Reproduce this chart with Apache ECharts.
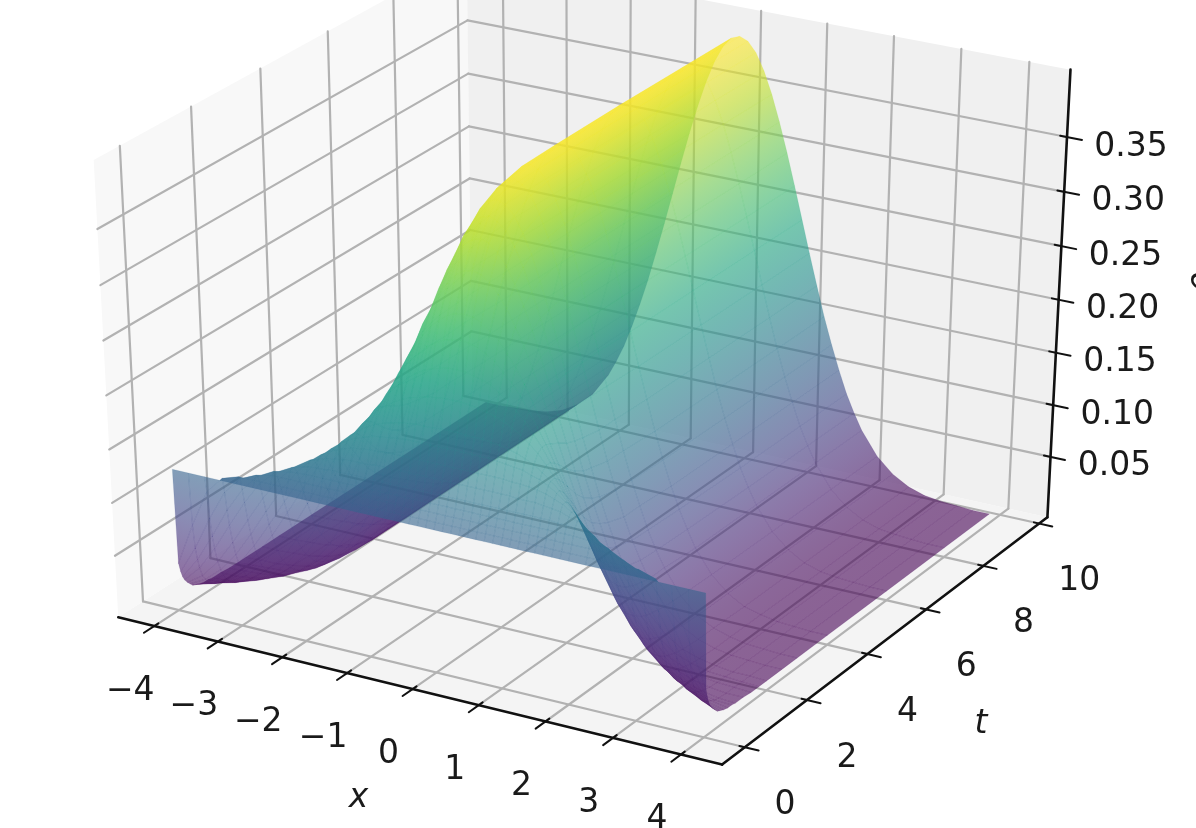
<!DOCTYPE html>
<html>
<head>
<meta charset="utf-8">
<style>html,body{margin:0;background:#fff}#chart{width:1196px;height:828px}</style>
<script src="https://cdn.jsdelivr.net/npm/echarts@6/dist/echarts.min.js"></script>
</head>
<body>
<div id="chart"></div>
<script>
// values: one row of rho per t
var xValues = [-4,-3.75,-3.5,-3.25,-3,-2.75,-2.5,-2.25,-2,-1.875,-1.75,-1.625,-1.5,-1.375,-1.25,-1.125,-1,-0.875,-0.75,-0.625,-0.5,-0.375,-0.25,-0.125,0,0.125,0.25,0.375,0.5,0.625,0.75,0.875,1,1.125,1.25,1.375,1.5,1.625,1.75,1.875,2,2.25,2.5,2.75,3,3.25,3.5,3.75,4];
var tValues = [0,0.05,0.1,0.15,0.2,0.275,0.35,0.425,0.5,0.625,0.75,0.875,1,1.25,1.5,1.75,2,2.5,3,4,6,8,9.6];
var rho_t0 = [.125,.125,.125,.125,.125,.125,.125,.125,.125,.125,.125,.125,.125,.125,.125,.125,.125,.125,.125,.125,.125,.125,.125,.125,.125,.125,.125,.125,.125,.125,.125,.125,.125,.125,.125,.125,.125,.125,.125,.125,.125,.125,.125,.125,.125,.125,.125,.125,.125];
var rho_t005 = [.035,.075,.110,.126,.131,.131,.131,.131,.131,.131,.131,.131,.131,.131,.131,.131,.131,.131,.131,.131,.131,.131,.131,.131,.131,.131,.131,.131,.131,.131,.131,.131,.131,.131,.131,.131,.131,.131,.131,.131,.131,.131,.131,.131,.131,.126,.110,.075,.035];
var rho_t01 = [.026,.052,.084,.112,.128,.135,.138,.138,.138,.138,.138,.138,.138,.138,.138,.138,.138,.138,.138,.138,.138,.138,.138,.138,.138,.138,.138,.138,.138,.138,.138,.138,.138,.138,.138,.138,.138,.138,.138,.138,.138,.138,.138,.135,.128,.112,.084,.052,.026];
var rho_t015 = [.020,.040,.066,.094,.117,.133,.141,.144,.145,.145,.145,.145,.145,.145,.145,.145,.145,.145,.145,.145,.145,.145,.145,.145,.145,.145,.145,.145,.145,.145,.145,.145,.145,.145,.145,.145,.145,.145,.145,.145,.145,.144,.141,.133,.117,.094,.066,.040,.020];
var rho_t02 = [.016,.031,.053,.079,.104,.125,.139,.147,.151,.152,.152,.153,.153,.153,.153,.153,.153,.153,.153,.153,.153,.153,.153,.153,.153,.153,.153,.153,.153,.153,.153,.153,.153,.153,.153,.153,.153,.153,.152,.152,.151,.147,.139,.125,.104,.079,.053,.031,.016];
var rho_t0275 = [.012,.022,.039,.061,.086,.110,.131,.146,.156,.158,.161,.162,.163,.164,.164,.164,.165,.165,.165,.165,.165,.165,.165,.165,.165,.165,.165,.165,.165,.165,.165,.165,.165,.164,.164,.164,.163,.162,.161,.158,.156,.146,.131,.110,.086,.061,.039,.022,.012];
var rho_t035 = [.009,.017,.030,.048,.071,.096,.120,.140,.155,.161,.166,.169,.172,.174,.175,.176,.176,.177,.177,.177,.177,.177,.177,.177,.177,.177,.177,.177,.177,.177,.177,.177,.176,.176,.175,.174,.172,.169,.166,.161,.155,.140,.120,.096,.071,.048,.030,.017,.009];
var rho_t0425 = [.006,.013,.023,.038,.058,.082,.107,.131,.151,.160,.167,.173,.178,.182,.184,.187,.188,.189,.190,.191,.191,.191,.191,.191,.191,.191,.191,.191,.191,.191,.190,.189,.188,.187,.184,.182,.178,.173,.167,.160,.151,.131,.107,.082,.058,.038,.023,.013,.006];
var rho_t05 = [.005,.010,.018,.031,.049,.070,.095,.121,.145,.156,.165,.174,.181,.187,.192,.196,.199,.201,.203,.204,.205,.205,.205,.206,.206,.206,.205,.205,.205,.204,.203,.201,.199,.196,.192,.187,.181,.174,.165,.156,.145,.121,.095,.070,.049,.031,.018,.010,.005];
var rho_t0625 = [.003,.007,.013,.022,.036,.055,.078,.105,.132,.146,.158,.170,.181,.191,.200,.207,.213,.218,.222,.225,.227,.229,.230,.231,.231,.231,.230,.229,.227,.225,.222,.218,.213,.207,.200,.191,.181,.170,.158,.146,.132,.105,.078,.055,.036,.022,.013,.007,.003];
var rho_t075 = [.002,.005,.009,.016,.028,.043,.065,.090,.119,.134,.149,.163,.177,.191,.203,.213,.223,.231,.238,.244,.249,.252,.254,.256,.256,.256,.254,.252,.249,.244,.238,.231,.223,.213,.203,.191,.177,.163,.149,.134,.119,.090,.065,.043,.028,.016,.009,.005,.002];
var rho_t0875 = [.002,.003,.007,.012,.021,.035,.054,.078,.107,.123,.139,.156,.172,.188,.203,.217,.230,.242,.252,.260,.268,.273,.277,.279,.280,.279,.277,.273,.268,.260,.252,.242,.230,.217,.203,.188,.172,.156,.139,.123,.107,.078,.054,.035,.021,.012,.007,.003,.002];
var rho_t1 = [.001,.002,.005,.010,.017,.029,.046,.068,.097,.113,.130,.148,.166,.184,.201,.219,.235,.250,.263,.274,.284,.291,.297,.300,.301,.300,.297,.291,.284,.274,.263,.250,.235,.219,.201,.184,.166,.148,.130,.113,.097,.068,.046,.029,.017,.010,.005,.002,.001];
var rho_t125 = [.001,.001,.003,.006,.012,.021,.034,.054,.081,.097,.115,.134,.154,.175,.197,.218,.239,.259,.278,.293,.308,.319,.328,.333,.335,.333,.328,.319,.308,.293,.278,.259,.239,.218,.197,.175,.154,.134,.115,.097,.081,.054,.034,.021,.012,.006,.003,.001,.001];
var rho_t15 = [.000,.001,.002,.004,.009,.016,.028,.046,.071,.087,.104,.124,.145,.168,.192,.216,.241,.265,.287,.307,.325,.339,.350,.356,.359,.356,.350,.339,.325,.307,.287,.265,.241,.216,.192,.168,.145,.124,.104,.087,.071,.046,.028,.016,.009,.004,.002,.001,.000];
var rho_t175 = [.000,.001,.002,.003,.007,.013,.024,.040,.064,.080,.097,.118,.140,.163,.189,.215,.241,.268,.293,.315,.335,.352,.364,.371,.374,.371,.364,.352,.335,.315,.293,.268,.241,.215,.189,.163,.140,.118,.097,.080,.064,.040,.024,.013,.007,.003,.002,.001,.000];
var rho_t2 = [.000,.001,.001,.003,.006,.011,.021,.037,.060,.076,.093,.114,.136,.161,.187,.214,.242,.270,.296,.320,.342,.359,.373,.381,.384,.381,.373,.359,.342,.320,.296,.270,.242,.214,.187,.161,.136,.114,.093,.076,.060,.037,.021,.011,.006,.003,.001,.001,.000];
var rho_t25 = [.000,.000,.001,.002,.005,.010,.019,.034,.056,.072,.089,.109,.132,.157,.184,.213,.242,.271,.299,.325,.348,.367,.382,.390,.393,.390,.382,.367,.348,.325,.299,.271,.242,.213,.184,.157,.132,.109,.089,.072,.056,.034,.019,.010,.005,.002,.001,.000,.000];
var rho_t3 = [.000,.000,.001,.002,.005,.010,.018,.033,.056,.071,.088,.109,.131,.157,.184,.213,.243,.272,.301,.327,.351,.370,.385,.394,.397,.394,.385,.370,.351,.327,.301,.272,.243,.213,.184,.157,.131,.109,.088,.071,.056,.033,.018,.010,.005,.002,.001,.000,.000];
var rho_t4 = [.000,.000,.001,.002,.005,.009,.018,.032,.054,.070,.087,.107,.130,.155,.183,.212,.242,.272,.301,.328,.352,.371,.386,.395,.398,.395,.386,.371,.352,.328,.301,.272,.242,.212,.183,.155,.130,.107,.087,.070,.054,.032,.018,.009,.005,.002,.001,.000,.000];
var rho_t6 = [.000,.000,.001,.002,.004,.009,.018,.032,.054,.069,.086,.107,.130,.155,.183,.212,.242,.272,.301,.328,.352,.372,.387,.396,.399,.396,.387,.372,.352,.328,.301,.272,.242,.212,.183,.155,.130,.107,.086,.069,.054,.032,.018,.009,.004,.002,.001,.000,.000];
var rho_t8 = [.000,.000,.001,.002,.004,.009,.018,.032,.054,.069,.086,.107,.130,.155,.183,.212,.242,.272,.301,.328,.352,.372,.387,.396,.399,.396,.387,.372,.352,.328,.301,.272,.242,.212,.183,.155,.130,.107,.086,.069,.054,.032,.018,.009,.004,.002,.001,.000,.000];
var rho_t96 = [.000,.000,.001,.002,.004,.009,.018,.032,.054,.069,.086,.107,.130,.155,.183,.212,.242,.272,.301,.328,.352,.372,.387,.396,.399,.396,.387,.372,.352,.328,.301,.272,.242,.212,.183,.155,.130,.107,.086,.069,.054,.032,.018,.009,.004,.002,.001,.000,.000];
var rhoRows = [rho_t0,rho_t005,rho_t01,rho_t015,rho_t02,rho_t0275,rho_t035,rho_t0425,rho_t05,rho_t0625,rho_t075,rho_t0875,rho_t1,rho_t125,rho_t15,rho_t175,rho_t2,rho_t25,rho_t3,rho_t4,rho_t6,rho_t8,rho_t96];

var xTicks = [-4,-3,-2,-1,0,1,2,3,4];
var tTicks = [0,2,4,6,8,10];
var zTicks = [0.05,0.10,0.15,0.20,0.25,0.30,0.35];

var xLim = [-4.57,4.6], tLim = [-0.72,10.3], zLim = [-0.009,0.4105];
var viridis = ['#440154','#482475','#414487','#355f8d','#2a788e','#21918c','#22a884','#44bf70','#7ad151','#bddf26','#fde725'];
var surfaceAlpha = 0.6, seamAlpha = 0.2, zPeak = 0.399;

var elev = 30*Math.PI/180, azim = -60*Math.PI/180, dist = 10;
var eye = [Math.cos(elev)*Math.cos(azim), Math.cos(elev)*Math.sin(azim), Math.sin(elev)];
var right = [-Math.sin(azim), Math.cos(azim), 0];
var up = [-Math.sin(elev)*Math.cos(azim), -Math.sin(elev)*Math.sin(azim), Math.cos(elev)];

// same view as a matplotlib 3d axes, returns [u, v, depth]
function project(x, t, z) {
  var p = [(x-xLim[0])/(xLim[1]-xLim[0])-0.5, (t-tLim[0])/(tLim[1]-tLim[0])-0.5, (z-zLim[0])/(zLim[1]-zLim[0])-0.5];
  var d = p[0]*eye[0]+p[1]*eye[1]+p[2]*eye[2];
  var w = dist-d;
  return [dist*(p[0]*right[0]+p[1]*right[1])/w, dist*(p[0]*up[0]+p[1]*up[1]+p[2]*up[2])/w, d];
}

function hex(c){ return [parseInt(c.substr(1,2),16),parseInt(c.substr(3,2),16),parseInt(c.substr(5,2),16)]; }
function colorOf(v, alpha){
  var f = Math.max(0,Math.min(1,v/zPeak))*(viridis.length-1), i = Math.min(viridis.length-2,Math.floor(f)), k = f-i;
  var a = hex(viridis[i]), b = hex(viridis[i+1]);
  return 'rgba('+Math.round(a[0]+(b[0]-a[0])*k)+','+Math.round(a[1]+(b[1]-a[1])*k)+','+Math.round(a[2]+(b[2]-a[2])*k)+','+alpha+')';
}

// cells, far ones first
var cells = [];
for (var j=0;j<tValues.length-1;j++) {
  for (var i=0;i<xValues.length-1;i++) {
    var c = project((xValues[i]+xValues[i+1])/2,(tValues[j]+tValues[j+1])/2,(rhoRows[j][i]+rhoRows[j][i+1]+rhoRows[j+1][i]+rhoRows[j+1][i+1])/4);
    cells.push([i,j,c[2]]);
  }
}
cells.sort(function(a,b){return a[2]-b[2];});

// fill follows the best plane through the four corners so neighbours join up
function cellFill(pts, zs, alpha) {
  var mx=0,my=0,mz=0,n=pts.length;
  pts.forEach(function(p,k){mx+=p[0]/n;my+=p[1]/n;mz+=zs[k]/n;});
  var sxx=0,sxy=0,syy=0,sxz=0,syz=0;
  pts.forEach(function(p,k){
    var dx=p[0]-mx,dy=p[1]-my,dz=zs[k]-mz;
    sxx+=dx*dx;sxy+=dx*dy;syy+=dy*dy;sxz+=dx*dz;syz+=dy*dz;
  });
  var det = sxx*syy-sxy*sxy;
  if (Math.abs(det)<1e-3) return colorOf(mz,alpha);
  var b=(sxz*syy-syz*sxy)/det, c=(syz*sxx-sxz*sxy)/det, g2=b*b+c*c;
  if (g2<1e-12) return colorOf(mz,alpha);
  var lo=Infinity,hi=-Infinity;
  pts.forEach(function(p){
    var s=((p[0]-mx)*b+(p[1]-my)*c)/g2;
    if(s<lo)lo=s; if(s>hi)hi=s;
  });
  return new echarts.graphic.LinearGradient(mx+lo*b,my+lo*c,mx+hi*b,my+hi*c,[
    {offset:0,color:colorOf(mz+lo*g2,alpha)},
    {offset:0.5,color:colorOf(mz+(lo+hi)/2*g2,alpha)},
    {offset:1,color:colorOf(mz+hi*g2,alpha)}
  ],true);
}

function renderCell(params, api) {
  var i = api.value(0), j = api.value(1);
  var idx = [[i,j],[i+1,j],[i+1,j+1],[i,j+1]];
  var zs = idx.map(function(q){return rhoRows[q[1]][q[0]];});
  var pts = idx.map(function(q,k){
    var p = project(xValues[q[0]],tValues[q[1]],zs[k]);
    return api.coord([p[0],p[1]]);
  });
  return {type:'polygon',shape:{points:pts},style:{fill:cellFill(pts,zs,surfaceAlpha),stroke:cellFill(pts,zs,seamAlpha),lineWidth:0.7}};
}

function line3d(api, a, b, color, width) {
  var p = project(a[0],a[1],a[2]), q = project(b[0],b[1],b[2]);
  var s = api.coord([p[0],p[1]]), e = api.coord([q[0],q[1]]);
  return {type:'line',shape:{x1:s[0],y1:s[1],x2:e[0],y2:e[1]},style:{stroke:color,lineWidth:width,lineCap:'round'}};
}
function pane(api, pts, color) {
  return {type:'polygon',shape:{points:pts.map(function(a){var p=project(a[0],a[1],a[2]);return api.coord([p[0],p[1]]);})},style:{fill:color}};
}

var gridColor = '#b2b2b2', gridWidth = 2.2;

function renderFrame(params, api) {
  var x0=xLim[0],x1=xLim[1],t0=tLim[0],t1=tLim[1],z0=zLim[0],z1=zLim[1];
  var kids = [
    pane(api,[[x0,t0,z0],[x1,t0,z0],[x1,t1,z0],[x0,t1,z0]],'#f4f4f4'),
    pane(api,[[x0,t0,z0],[x0,t1,z0],[x0,t1,z1],[x0,t0,z1]],'#f8f8f8'),
    pane(api,[[x0,t1,z0],[x1,t1,z0],[x1,t1,z1],[x0,t1,z1]],'#f0f0f0')
  ];
  xTicks.forEach(function(x){
    kids.push(line3d(api,[x,t0,z0],[x,t1,z0],gridColor,gridWidth));
    kids.push(line3d(api,[x,t1,z0],[x,t1,z1],gridColor,gridWidth));
  });
  tTicks.forEach(function(t){
    kids.push(line3d(api,[x1,t,z0],[x0,t,z0],gridColor,gridWidth));
    kids.push(line3d(api,[x0,t,z0],[x0,t,z1],gridColor,gridWidth));
  });
  zTicks.forEach(function(z){
    kids.push(line3d(api,[x0,t0,z],[x0,t1,z],gridColor,gridWidth));
    kids.push(line3d(api,[x0,t1,z],[x1,t1,z],gridColor,gridWidth));
  });
  return {type:'group',children:kids};
}

function label(api, a, dx, dy, text, font, rotation) {
  var p = project(a[0],a[1],a[2]), s = api.coord([p[0],p[1]]);
  return {type:'text',x:s[0]+dx,y:s[1]+dy,rotation:rotation||0,style:{text:text,font:font,fill:'#1a1a1a',textAlign:'center',textVerticalAlign:'middle'}};
}

function renderAxes(params, api) {
  var x0=xLim[0],x1=xLim[1],t0=tLim[0],t1=tLim[1],z0=zLim[0],z1=zLim[1];
  var font = '33px "DejaVu Sans"', italic = 'italic 33px "DejaVu Sans"';
  var kids = [
    line3d(api,[x0,t0,z0],[x1,t0,z0],'#111',2.6),
    line3d(api,[x1,t0,z0],[x1,t1,z0],'#111',2.6),
    line3d(api,[x1,t1,z0],[x1,t1,z1],'#111',2.6)
  ];
  xTicks.forEach(function(x){
    kids.push(line3d(api,[x,t0-0.3,z0],[x,t0+0.12,z0],'#111',2));
    kids.push(label(api,[x,t0,z0],-24,65,String(x).replace('-','\u2212'),font));
  });
  tTicks.forEach(function(t){
    kids.push(line3d(api,[x1-0.08,t,z0],[x1+0.2,t,z0],'#111',2));
    kids.push(label(api,[x1,t,z0],40,58,String(t),font));
  });
  zTicks.forEach(function(z){
    kids.push(line3d(api,[x1-0.1,t1,z],[x1+0.22,t1,z],'#111',2));
    kids.push(label(api,[x1,t1,z],64,10,z.toFixed(2),font));
  });
  kids.push(label(api,[0,t0,z0],-54,109,'x',italic));
  kids.push(label(api,[x1,5,z0],84,93,'t',italic));
  kids.push(label(api,[x1,t1,0.2],143,-17,'\u03c1',italic,Math.PI/2));
  return {type:'group',children:kids};
}

var chart = echarts.init(document.getElementById('chart'));
chart.setOption({
  animation:false,
  backgroundColor:'#fff',
  grid:{left:0,right:0,top:0,bottom:0},
  xAxis:{type:'value',min:-0.8465,max:0.8694,show:false},
  yAxis:{type:'value',min:-0.9234,max:0.6628,show:false},
  series:[
    {type:'custom',coordinateSystem:'cartesian2d',silent:true,clip:false,z:1,data:[[0,0]],renderItem:renderFrame},
    {type:'custom',coordinateSystem:'cartesian2d',silent:true,clip:false,z:2,data:cells,renderItem:renderCell},
    {type:'custom',coordinateSystem:'cartesian2d',silent:true,clip:false,z:3,data:[[0,0]],renderItem:renderAxes}
  ]
});
window.addEventListener('resize',function(){chart.resize();});
</script>
</body>
</html>
